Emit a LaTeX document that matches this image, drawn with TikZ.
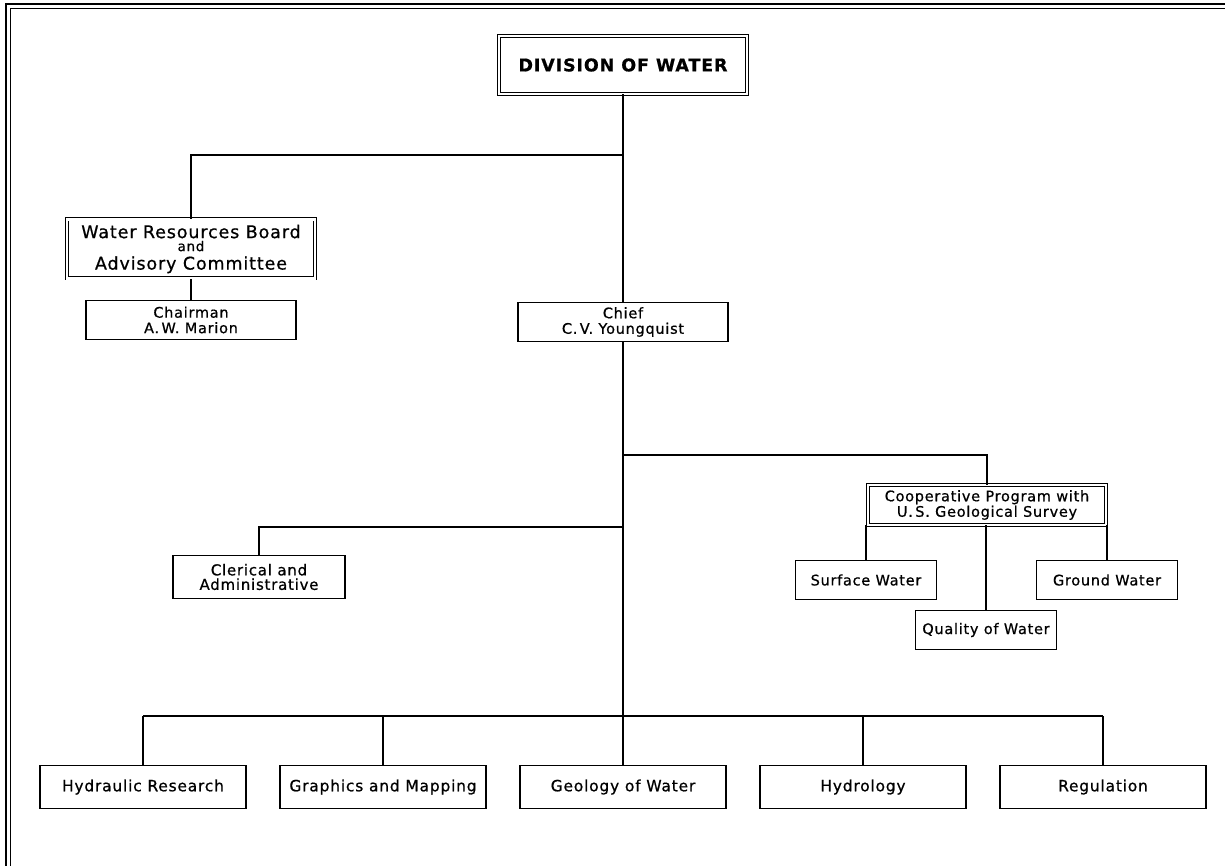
\documentclass[tikz,border=0pt]{standalone}
\usepackage{fontspec}
\setmainfont{DejaVu Sans}[LetterSpace=5,FakeBold=0.7]

\begin{document}
\begin{tikzpicture}[x=1pt,y=-1pt,line width=1.1pt,
                    font=\fontsize{15.5}{17}\selectfont]
  \tikzstyle{box}=[rectangle,draw=black,
                                    line width=1.2pt,
                                    align=center,
                                    inner sep=0pt]
  \tikzstyle{doublebox}=[box,double,
                                    double distance=2.2pt,
                                    line width=0.9pt]
  \tikzstyle{unit}=[box,minimum width=206,
                                    minimum height=43]
  \tikzstyle{small}=[box,minimum width=141,
                                    minimum height=39,
                                    font=\fontsize{14.5}{16}\selectfont]
  \useasboundingbox (0,0) rectangle (1225,866);
  %Frame
  \draw[line width=1.8pt] (6,866) -- (6,4) -- (1225,4);
  \draw[line width=0.6pt] (10.5,866) -- (10.5,8.5) -- (1225,8.5);
  %Top boxes
  \node[doublebox,minimum width=248,minimum height=58,
        font=\bfseries\fontsize{17.5}{19}\selectfont] (div) at (623,65) {DIVISION OF WATER};
  \node[doublebox,minimum width=248,minimum height=59,
        font=\fontsize{17.5}{13}\selectfont] (wrb) at (191,249)
        {Water Resources Board\\{\fontsize{13.5}{12}\selectfont and}\\[4pt]Advisory Committee};
  \node[box,minimum width=210,minimum height=39,
        font=\fontsize{14.5}{15.5}\selectfont] (chair) at (191,320) {Chairman\\A.\,W. Marion};
  \node[box,minimum width=210,minimum height=39,
        font=\fontsize{14.5}{15.5}\selectfont] (chief) at (623,322) {Chief\\C.\,V. Youngquist};
  %Middle boxes
  \node[doublebox,minimum width=238,minimum height=40,
        font=\fontsize{14.5}{15.5}\selectfont] (coop) at (987,505)
        {Cooperative Program with\\U.\,S. Geological Survey};
  \node[box,minimum width=172,minimum height=43,
        font=\fontsize{15}{14.5}\selectfont] (cler) at (259,577) {Clerical and\\Administrative};
  \node[small] (surf) at (866,580) {Surface Water};
  \node[small] (ground) at (1107,580) {Ground Water};
  \node[small] (qual) at (986,630) {Quality of Water};
  %Bottom boxes
  \node[unit] (hyd) at (143,787) {Hydraulic Research};
  \node[unit] (graph) at (383,787) {Graphics and Mapping};
  \node[unit] (geo) at (623,787) {Geology of Water};
  \node[unit] (hydro) at (863,787) {Hydrology};
  \node[unit] (reg) at (1103,787) {Regulation};
  %Junctions
  \coordinate (topbus) at (623,155);
  \coordinate (coopbus) at (623,455);
  \coordinate (clerbus) at (623,527);
  \coordinate (lowbus) at (623,716);
  %Lines
  \path (div) edge (chief)
        (chief) edge (geo)
        (wrb) edge (chair);
  \draw (topbus) -| (wrb);
  \draw (coopbus) -| (coop);
  \draw (clerbus) -| (cler);
  \draw (coop.south -| surf) -- (surf);
  \draw (coop.south -| qual) -- (qual);
  \draw (coop.south -| ground) -- (ground);
  \draw (lowbus -| hyd) -- (lowbus -| reg);
  \foreach \n in {hyd,graph,hydro,reg}
    \draw (lowbus -| \n) -- (\n);
\end{tikzpicture}
\end{document}
